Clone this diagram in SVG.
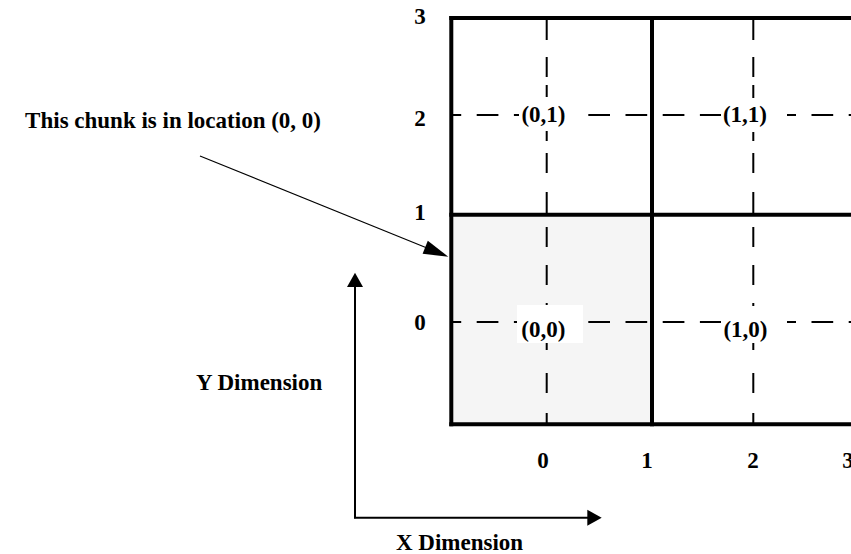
<svg xmlns="http://www.w3.org/2000/svg" width="851" height="554" viewBox="0 0 851 554">
<style>
  text { font-family: "Liberation Serif", "Times New Roman", serif; font-weight: bold; font-size: 23px; fill: #000; }
  .mid { text-anchor: middle; }
  .grid { stroke: #000; stroke-width: 4; fill: none; }
  .dash { stroke: #000; stroke-width: 2; fill: none; stroke-dasharray: 21.7 15.5; }
  .seg { stroke: #000; stroke-width: 2; fill: none; }
  .mask { fill: #fff; stroke: none; }
  .thin { stroke: #000; stroke-width: 1.2; fill: none; }
  .axis { stroke: #000; stroke-width: 2; fill: none; }
  .head { fill: #000; stroke: none; }
</style>
<rect x="0" y="0" width="851" height="554" fill="#fff"/>

<!-- shaded chunk -->
<rect x="451" y="214.7" width="201" height="209.6" fill="#f5f5f5"/>

<!-- dashed centre lines -->
<g id="centre-lines">
  <line class="dash" x1="450" y1="115" x2="860" y2="115" stroke-dashoffset="10.5"/>
  <line class="dash" x1="450" y1="322" x2="860" y2="322" stroke-dashoffset="10.5"/>
  <path class="seg" d="M546.7 20V40M546.7 57V77M546.7 85V97M546.7 131V141M546.7 153V173M546.7 192V213M546.7 227V247M546.7 265V285M546.7 303V306M546.7 343V350M546.7 373V393M546.7 413V423"/>
  <path class="seg" d="M753.3 20V40M753.3 57V77M753.3 85V98M753.3 132V141M753.3 153V173M753.3 192V213M753.3 227V247M753.3 265V285M753.3 303V306M753.3 343V350M753.3 373V393M753.3 413V423"/>
</g>

<!-- chunk nodes -->
<g id="chunk-0-1">
  <rect class="mask" x="519" y="97" width="66" height="34"/>
  <text class="mid" x="543.5" y="122">(0,1)</text>
</g>
<g id="chunk-1-1">
  <rect class="mask" x="721" y="98" width="66" height="34"/>
  <text class="mid" x="745" y="122">(1,1)</text>
</g>
<g id="chunk-0-0">
  <rect class="mask" x="517" y="305" width="66" height="38"/>
  <text class="mid" x="543.3" y="337">(0,0)</text>
</g>
<g id="chunk-1-0">
  <rect class="mask" x="721" y="306" width="66" height="37"/>
  <text class="mid" x="745.5" y="337">(1,0)</text>
</g>

<!-- grid -->
<g id="grid">
  <line class="grid" x1="451.3" y1="16" x2="451.3" y2="426.3"/>
  <line class="grid" x1="652" y1="16" x2="652" y2="426.3"/>
  <line class="grid" x1="449.3" y1="18" x2="860" y2="18"/>
  <line class="grid" x1="449.3" y1="214.7" x2="860" y2="214.7"/>
  <line class="grid" x1="449.3" y1="424.3" x2="860" y2="424.3"/>
</g>

<!-- axis labels -->
<g id="row-labels">
  <text class="mid" x="420" y="24">3</text>
  <text class="mid" x="420" y="126">2</text>
  <text class="mid" x="420" y="220">1</text>
  <text class="mid" x="420" y="330">0</text>
</g>
<g id="col-labels">
  <text class="mid" x="543" y="468">0</text>
  <text class="mid" x="647" y="468">1</text>
  <text class="mid" x="753" y="468">2</text>
  <text class="mid" x="848" y="468">3</text>
</g>

<g id="note">
  <text x="321" y="128" text-anchor="end">This chunk is in location (0, 0)</text>
</g>
<g id="y-label"><text x="196" y="390">Y Dimension</text></g>
<g id="x-label"><text x="396" y="550">X Dimension</text></g>

<!-- connectors -->
<g id="connectors">
  <line class="thin" x1="200" y1="156" x2="427" y2="248"/>
  <polygon class="head" points="448.3,256.7 422.6,253.8 427.8,240.8"/>
  <line class="axis" x1="355" y1="518.3" x2="355" y2="285"/>
  <polygon class="head" points="355,272.7 347,287 363,287"/>
  <line class="axis" x1="354" y1="517.7" x2="589" y2="517.7"/>
  <polygon class="head" points="601.7,517.7 587.3,509.7 587.3,525.7"/>
</g>
</svg>
